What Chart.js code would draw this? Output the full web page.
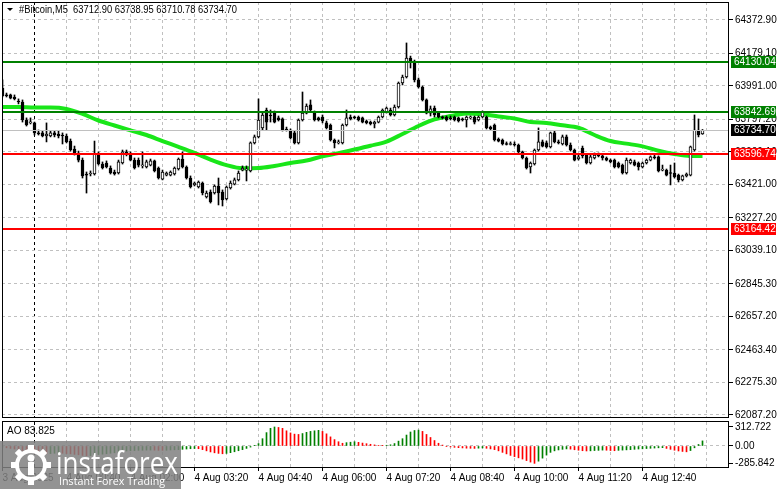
<!DOCTYPE html>
<html>
<head>
<meta charset="utf-8">
<script src="https://cdn.jsdelivr.net/npm/chart.js@4.4.0/dist/chart.umd.min.js"></script>
<style>
  html, body { margin: 0; padding: 0; background: #fff; }
  #wrap { width: 781px; height: 489px; }
</style>
</head>
<body>
<div id="wrap"><canvas id="chart" width="781" height="489"></canvas></div>
<script>
// #Bitcoin M5, 3 Aug 23:20 .. 4 Aug 13:55, one value per 5-minute bar
const opens = [
  63979, 63939, 63939, 63927, 63904, 63898, 63794, 63777, 63777, 63719,
  63719, 63701, 63701, 63719, 63713, 63707, 63701, 63672, 63626, 63603,
  63562, 63481, 63481, 63481, 63597, 63539, 63545, 63516, 63493, 63487,
  63545, 63609, 63597, 63562, 63562, 63528, 63522, 63533, 63557, 63516,
  63452, 63475, 63475, 63481, 63510, 63568, 63522, 63458, 63418, 63406,
  63429, 63348, 63377, 63371, 63412, 63377, 63337, 63400, 63423, 63447,
  63504, 63504, 63499, 63661, 63696, 63748, 63852, 63823, 63834, 63806,
  63800, 63742, 63736, 63719, 63661, 63794, 63834, 63881, 63834, 63806,
  63811, 63777, 63765, 63678, 63661, 63661, 63765, 63811, 63811, 63811,
  63806, 63788, 63782, 63771, 63782, 63811, 63840, 63852, 63823, 63869,
  64008, 64043, 64153, 64130, 64026, 63985, 63910, 63834, 63863, 63834,
  63811, 63811, 63806, 63811, 63806, 63800, 63794, 63806, 63811, 63794,
  63811, 63811, 63753, 63765, 63684, 63678, 63655, 63652, 63655, 63649,
  63609, 63574, 63522, 63539, 63620, 63667, 63661, 63638, 63719, 63667,
  63655, 63696, 63649, 63620, 63568, 63632, 63591, 63545, 63574, 63591,
  63586, 63574, 63562, 63562, 63545, 63533, 63487, 63545, 63551, 63545,
  63522, 63545, 63562, 63580, 63580, 63504, 63504, 63487, 63487, 63475,
  63447, 63470, 63475, 63620, 63736, 63712.90
];
const highs = [
  64026, 63950, 63944, 63939, 63916, 63910, 63806, 63806, 63782, 63736,
  63730, 63777, 63730, 63730, 63730, 63719, 63713, 63684, 63643, 63614,
  63574, 63493, 63499, 63672, 63609, 63551, 63557, 63528, 63504, 63562,
  63620, 63620, 63609, 63574, 63574, 63609, 63562, 63568, 63562, 63522,
  63504, 63493, 63499, 63522, 63574, 63609, 63528, 63470, 63435, 63441,
  63435, 63383, 63389, 63418, 63458, 63389, 63412, 63441, 63458, 63499,
  63528, 63528, 63667, 63707, 63916, 63834, 63863, 63852, 63846, 63817,
  63806, 63753, 63742, 63730, 63800, 63956, 63887, 63910, 63846, 63811,
  63823, 63788, 63771, 63684, 63678, 63771, 63852, 63823, 63817, 63817,
  63811, 63794, 63788, 63788, 63817, 63858, 63869, 63863, 63881, 64014,
  64054, 64240, 64164, 64141, 64037, 63991, 63916, 63875, 63875, 63840,
  63817, 63817, 63817, 63817, 63811, 63806, 63817, 63817, 63817, 63817,
  63846, 63817, 63759, 63771, 63690, 63684, 63667, 63667, 63667, 63655,
  63614, 63580, 63551, 63626, 63748, 63678, 63672, 63724, 63730, 63678,
  63707, 63707, 63661, 63626, 63591, 63643, 63597, 63591, 63603, 63603,
  63591, 63580, 63568, 63568, 63551, 63539, 63574, 63568, 63562, 63551,
  63551, 63568, 63586, 63591, 63586, 63533, 63510, 63533, 63545, 63481,
  63475, 63487, 63643, 63823, 63800, 63738.95
];
const lows = [
  63927, 63927, 63916, 63910, 63887, 63782, 63759, 63771, 63707, 63707,
  63696, 63667, 63696, 63696, 63690, 63655, 63661, 63614, 63591, 63551,
  63458, 63371, 63470, 63475, 63533, 63510, 63516, 63481, 63475, 63481,
  63539, 63586, 63557, 63510, 63522, 63516, 63516, 63528, 63493, 63452,
  63447, 63470, 63470, 63475, 63504, 63516, 63452, 63400, 63412, 63400,
  63360, 63342, 63313, 63365, 63302, 63296, 63331, 63394, 63418, 63441,
  63499, 63441, 63493, 63655, 63690, 63736, 63736, 63782, 63777, 63788,
  63730, 63730, 63684, 63655, 63655, 63788, 63829, 63846, 63788, 63788,
  63777, 63742, 63672, 63632, 63655, 63655, 63759, 63794, 63800, 63788,
  63777, 63771, 63765, 63748, 63777, 63806, 63834, 63817, 63817, 63863,
  63997, 64037, 64095, 64014, 63979, 63904, 63829, 63817, 63811, 63806,
  63800, 63788, 63794, 63788, 63782, 63788, 63753, 63800, 63771, 63788,
  63806, 63742, 63736, 63672, 63667, 63649, 63649, 63649, 63643, 63603,
  63568, 63510, 63487, 63533, 63614, 63638, 63632, 63632, 63661, 63655,
  63649, 63643, 63614, 63557, 63562, 63574, 63539, 63539, 63568, 63580,
  63562, 63557, 63545, 63516, 63516, 63481, 63481, 63539, 63528, 63504,
  63516, 63539, 63557, 63568, 63493, 63499, 63470, 63418, 63458, 63435,
  63441, 63464, 63470, 63614, 63696, 63710.78
];
const closes = [
  63933, 63933, 63921, 63916, 63898, 63794, 63765, 63782, 63719, 63713,
  63701, 63713, 63719, 63707, 63701, 63701, 63667, 63620, 63603, 63562,
  63470, 63475, 63487, 63597, 63539, 63516, 63522, 63487, 63481, 63551,
  63609, 63597, 63562, 63516, 63533, 63533, 63551, 63557, 63499, 63458,
  63493, 63487, 63493, 63516, 63568, 63522, 63458, 63406, 63429, 63435,
  63371, 63371, 63319, 63412, 63371, 63331, 63406, 63429, 63447, 63487,
  63516, 63510, 63661, 63696, 63794, 63823, 63782, 63817, 63782, 63794,
  63736, 63736, 63690, 63661, 63794, 63834, 63875, 63852, 63794, 63794,
  63788, 63748, 63678, 63661, 63667, 63765, 63806, 63800, 63806, 63794,
  63782, 63777, 63771, 63782, 63811, 63852, 63863, 63823, 63869, 64008,
  64043, 64153, 64130, 64026, 63985, 63910, 63834, 63858, 63823, 63811,
  63806, 63794, 63800, 63794, 63788, 63794, 63811, 63811, 63782, 63811,
  63840, 63748, 63742, 63678, 63672, 63655, 63652, 63655, 63649, 63609,
  63574, 63516, 63545, 63620, 63667, 63643, 63638, 63719, 63667, 63661,
  63696, 63649, 63620, 63562, 63580, 63586, 63545, 63580, 63591, 63586,
  63574, 63562, 63551, 63522, 63522, 63487, 63562, 63562, 63533, 63522,
  63545, 63562, 63580, 63574, 63499, 63507, 63475, 63484, 63464, 63447,
  63470, 63481, 63638, 63736, 63707, 63734.70
];

// moving average read every 4th bar
const maBars = [0, 4, 8, 12, 16, 20, 24, 28, 32, 36, 40, 44, 48, 52, 56, 60, 64, 68, 72, 76,
  80, 84, 88, 92, 96, 100, 104, 108, 112, 116, 120, 124, 128, 132, 136, 140, 144, 148, 152, 156,
  160, 164, 168, 172, 175];
const maVals = [63869, 63869, 63866, 63866, 63858, 63829, 63791, 63762, 63734, 63707,
  63672, 63638, 63603, 63565, 63533, 63515, 63516, 63528, 63545, 63559,
  63583, 63602, 63623, 63645, 63669, 63713, 63759, 63797, 63817, 63832,
  63827, 63814, 63803, 63782, 63777, 63763, 63749, 63707, 63672, 63657,
  63641, 63616, 63597, 63586, 63586];

// Awesome Oscillator
const aoVals = [
  -20, -30, -40, -50, -60, -75, -90, -100, -115, -120,
  -125, -128, -125, -120, -118, -120, -125, -130, -138, -145,
  -155, -160, -158, -150, -140, -135, -128, -120, -112, -100,
  -90, -82, -78, -75, -72, -70, -68, -67, -69, -72,
  -72, -70, -66, -63, -60, -55, -50, -45, -42, -45,
  -60, -80, -98, -112, -122, -128, -122, -110, -95, -78,
  -60, -40, -18, 5, 40, 120, 220, 290, 312.722, 305,
  290, 250, 215, 195, 190, 205, 225, 240, 250, 258,
  240, 200, 150, 105, 70, 45, 55, 62, 70, 60,
  48, 38, 28, 18, 10, 5, 12, 20, 40, 80,
  120, 180, 230, 255, 262, 240, 190, 140, 90, 45,
  15, -5, -15, -22, -28, -32, -36, -38, -40, -36,
  -32, -38, -48, -60, -80, -105, -130, -155, -175, -195,
  -215, -240, -265, -285.842, -250, -200, -150, -105, -80, -65,
  -55, -48, -52, -62, -70, -78, -82, -80, -75, -72,
  -68, -70, -75, -78, -72, -68, -64, -60, -55, -50,
  -46, -42, -38, -34, -30, -28, -40, -55, -70, -82,
  -90, -96, -75, -30, 25, 83.825
];

const resistance = [64130.04, 63842.69];
const support = [63596.74, 63164.42];

const priceTicks = [64372.90, 64179.10, 63991.00, 63797.20, 63609.10, 63421.00, 63227.20,
  63039.10, 62845.30, 62657.20, 62463.40, 62275.30, 62087.20];
const aoTicks = [312.722, 0, -285.842];
const timeTickBars = [0, 16, 32, 48, 64, 80, 96, 112, 128, 144, 160];
const timeTickText = ['3 Aug 2025', '4 Aug 00:40', '4 Aug 02:00', '4 Aug 03:20', '4 Aug 04:40',
  '4 Aug 06:00', '4 Aug 07:20', '4 Aug 08:40', '4 Aug 10:00', '4 Aug 11:20', '4 Aug 12:40'];
const daySeparatorBar = 8;

const FONT = '"Liberation Sans", Arial, sans-serif';
Chart.defaults.font.family = FONT;
Chart.defaults.font.size = 10;
Chart.defaults.color = '#000';

const last = closes.length - 1;
const idx = closes.map((_, i) => i);
const wickData = idx.map(i => ({ x: i, y: [lows[i], highs[i]] }));
const bodyData = idx.map(i => ({ x: i, y: [Math.min(opens[i], closes[i]), Math.max(opens[i], closes[i])] }));
const bodyFill = idx.map(i => closes[i] > opens[i] ? '#ffffff' : '#000000');
const maData = maBars.map((b, k) => ({ x: b, y: maVals[k] }));
const aoData = aoVals.map((v, i) => ({ x: i, y: v }));
const aoColors = aoVals.map((v, i) => (i === 0 || v > aoVals[i - 1]) ? '#008000' : '#ff0000');

const gridTicks = [];
for (let b = 0; b <= 176; b += 8) gridTicks.push({ value: b });

// no label overhang padding, the plot box is fixed like the terminal window
const noPad = s => { s.paddingTop = 0; s.paddingBottom = 0; s.paddingLeft = 0; s.paddingRight = 0; };

const levelsPlugin = {
  id: 'levels',
  afterDatasetsDraw(chart) {
    const ctx = chart.ctx;
    const ys = chart.scales.y;
    const { left, right } = chart.chartArea;
    ctx.save();
    ctx.beginPath();
    ctx.rect(left, ys.top, right - left, ys.bottom - ys.top);
    ctx.clip();
    ctx.fillStyle = '#c0c0c0';
    ctx.fillRect(left, Math.round(ys.getPixelForValue(closes[last])), right - left, 1);
    ctx.fillStyle = '#008000';
    resistance.forEach(p => ctx.fillRect(left, Math.round(ys.getPixelForValue(p)) - 1, right - left, 2));
    ctx.fillStyle = '#ff0000';
    support.forEach(p => ctx.fillRect(left, Math.round(ys.getPixelForValue(p)) - 1, right - left, 2));
    ctx.restore();
  },
  afterDraw(chart) {
    const ctx = chart.ctx;
    const ys = chart.scales.y, ao = chart.scales.y2;
    const { left, right } = chart.chartArea;
    const w = right - left;
    const mainBottom = ys.bottom - 4;
    ctx.save();
    ctx.fillStyle = '#fff';
    ctx.fillRect(left, mainBottom, w, ys.bottom - mainBottom);
    ctx.strokeStyle = '#000';
    ctx.lineWidth = 1;
    ctx.strokeRect(left + 0.5, ys.top + 0.5, w - 1, mainBottom - ys.top);
    ctx.strokeRect(left + 0.5, ao.top + 0.5, w - 1, ao.bottom - ao.top - 1);

    // header
    ctx.fillStyle = '#000';
    ctx.beginPath();
    ctx.moveTo(7, 8); ctx.lineTo(13, 8); ctx.lineTo(10, 11); ctx.closePath();
    ctx.fill();
    ctx.font = '10px ' + FONT;
    ctx.textBaseline = 'middle';
    const ohlc = [opens[last], highs[last], lows[last], closes[last]].map(v => v.toFixed(2)).join(' ');
    ctx.fillText('#Bitcoin,M5  ' + ohlc, 19, 10, 218);
    ctx.fillText('AO ' + aoVals[last].toFixed(3), 7, 431);

    // price tags on the axis
    const tag = (p, bg) => {
      const y = Math.round(ys.getPixelForValue(p));
      ctx.fillStyle = bg;
      ctx.fillRect(731, y - 6, 45, 12);
      ctx.fillStyle = '#fff';
      ctx.fillText(p.toFixed(2), 734, y + 0.5);
    };
    resistance.forEach(p => tag(p, '#008000'));
    support.forEach(p => tag(p, '#ff0000'));
    tag(closes[last], '#000000');

    // watermark
    ctx.fillStyle = 'rgba(128,128,128,0.85)';
    ctx.fillRect(0, 441, 181, 48);
    ctx.fillStyle = '#fff';
    ctx.strokeStyle = '#fff';
    const cx = 31, cy = 465;
    for (let k = 0; k < 8; k++) {
      ctx.save();
      ctx.translate(cx, cy);
      ctx.rotate(k * Math.PI / 4);
      ctx.fillRect(-3, -20, 6, 6);
      ctx.restore();
    }
    ctx.lineWidth = 4;
    ctx.beginPath(); ctx.arc(cx, cy, 14, 0, Math.PI * 2); ctx.stroke();
    ctx.beginPath(); ctx.arc(cx, cy - 7, 3.5, 0, Math.PI * 2); ctx.fill();
    ctx.fillRect(cx - 3, cy - 3, 6, 13);
    ctx.textBaseline = 'alphabetic';
    ctx.font = '31px "Open Sans", sans-serif';
    ctx.fillText('instaforex', 56, 474, 122);
    ctx.font = '11px "Open Sans", sans-serif';
    ctx.fillText('Instant Forex Trading', 59, 485, 106);
    ctx.restore();
  }
};

new Chart(document.getElementById('chart'), {
  type: 'bar',
  data: {
    datasets: [
      { type: 'line', data: maData, yAxisID: 'y', borderColor: '#19e619', borderWidth: 4,
        pointRadius: 0, cubicInterpolationMode: 'monotone', order: 3 },
      { data: wickData, yAxisID: 'y', backgroundColor: '#000', barThickness: 1, grouped: false, order: 2 },
      { data: bodyData, yAxisID: 'y', backgroundColor: bodyFill, borderColor: '#000', borderWidth: 1,
        borderSkipped: false, barThickness: 3, grouped: false, minBarLength: 1, order: 1 },
      { data: aoData, yAxisID: 'y2', backgroundColor: aoColors, barThickness: 1, grouped: false, order: 4 }
    ]
  },
  options: {
    responsive: false,
    animation: false,
    devicePixelRatio: 1,
    layout: { padding: { left: 2, top: 2, right: 0, bottom: 0 } },
    plugins: { legend: { display: false }, tooltip: { enabled: false } },
    scales: {
      x: {
        type: 'linear', position: 'bottom', min: -0.125, max: 181.625, offset: false,
        afterBuildTicks: s => { s.ticks = gridTicks.map(t => ({ value: t.value })); },
        afterFit: s => { s.height = 21; noPad(s); },
        border: { display: false, dash: [3, 3] },
        grid: {
          offset: false,
          color: c => c.tick && c.tick.value === daySeparatorBar ? '#000' : '#c0c0c0',
          tickColor: c => c.tick && timeTickBars.includes(c.tick.value) ? '#000' : 'rgba(0,0,0,0)',
          tickBorderDash: [], tickLength: 3
        },
        ticks: {
          autoSkip: false, maxRotation: 0, align: 'start', padding: 1,
          callback: v => { const k = timeTickBars.indexOf(v); return k >= 0 ? timeTickText[k] : ''; }
        }
      },
      y: {
        type: 'linear', position: 'right', stack: 'win', stackWeight: 419,
        min: 62051.1, max: 64477.1,
        afterBuildTicks: s => { s.ticks = priceTicks.map(v => ({ value: v })); },
        afterFit: s => { s.width = 52; noPad(s); },
        border: { display: false, dash: [3, 3] },
        grid: { color: '#c0c0c0', tickColor: '#000', tickBorderDash: [], tickLength: 4 },
        ticks: { autoSkip: false, padding: 2, callback: v => v.toFixed(2) }
      },
      y2: {
        type: 'linear', position: 'right', stack: 'win', stackWeight: 47,
        min: -362, max: 411,
        afterBuildTicks: s => { s.ticks = aoTicks.map(v => ({ value: v })); },
        afterFit: s => { s.width = 52; noPad(s); },
        border: { display: false, dash: [3, 3] },
        grid: { color: c => c.tick && c.tick.value === 0 ? '#c0c0c0' : 'rgba(0,0,0,0)',
                tickColor: '#000', tickBorderDash: [], tickLength: 4 },
        ticks: { autoSkip: false, padding: 2, callback: v => v === 0 ? '0.00' : v.toFixed(3) }
      }
    }
  },
  plugins: [levelsPlugin]
});
</script>
</body>
</html>
